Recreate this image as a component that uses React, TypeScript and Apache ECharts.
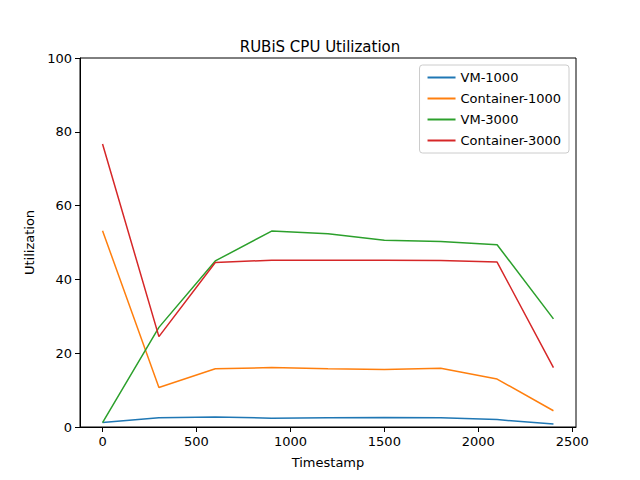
import React, { useEffect, useRef } from "react";
import * as echarts from "echarts";

const timestamps = [0, 300, 600, 900, 1200, 1500, 1800, 2100, 2400];
const vm1000 = [1.2, 2.5, 2.7, 2.4, 2.5, 2.6, 2.5, 2.0, 0.8];
const container1000 = [53.2, 10.7, 15.8, 16.1, 15.8, 15.6, 15.9, 13.0, 4.4];
const vm3000 = [1.2, 27.0, 45.0, 53.1, 52.4, 50.6, 50.3, 49.4, 29.3];
const container3000 = [76.7, 24.5, 44.6, 45.2, 45.2, 45.2, 45.1, 44.7, 16.1];
const xTicks = [0, 500, 1000, 1500, 2000, 2500];

const names = ["VM-1000", "Container-1000", "VM-3000", "Container-3000"];
const colors = ["#1f77b4", "#ff7f0e", "#2ca02c", "#d62728"];
const seriesData = [vm1000, container1000, vm3000, container3000];

export default function App() {
  const ref = useRef<HTMLDivElement>(null);
  useEffect(() => {
    const chart = echarts.init(ref.current!, null, { renderer: "svg" });
    const font = "DejaVu Sans";
    chart.setOption({
      animation: false,
      textStyle: { fontFamily: font },
      title: {
        text: "RUBiS CPU Utilization",
        left: "center",
        top: 34,
        textStyle: { fontFamily: font, fontSize: 15, fontWeight: "normal", color: "#000" },
      },
      legend: {
        data: names,
        orient: "vertical",
        right: 71,
        top: 65,
        itemWidth: 28,
        itemHeight: 2,
        itemGap: 8,
        padding: [6, 8, 6, 8],
        borderColor: "#ccc",
        borderWidth: 1,
        borderRadius: 3,
        icon: "rect",
        textStyle: { fontFamily: font, fontSize: 13, color: "#000" },
      },
      grid: {
        left: 80, right: 64, top: 58, bottom: 53,
        show: true, borderColor: "#000", borderWidth: 1,
      },
      xAxis: {
        type: "value",
        min: -120,
        max: 2520,
        name: "Timestamp",
        nameLocation: "middle",
        nameGap: 29,
        nameTextStyle: { fontFamily: font, fontSize: 13, color: "#000" },
        splitLine: { show: false },
        axisLine: { onZero: false, lineStyle: { color: "#000" } },
        axisTick: { customValues: xTicks, length: 5, lineStyle: { color: "#000" } },
        axisLabel: {
          customValues: xTicks, fontFamily: font, fontSize: 13, color: "#000", margin: 8,
          formatter: (v: number) => String(v),
        },
      },
      yAxis: {
        type: "value",
        min: 0,
        max: 100,
        interval: 20,
        name: "Utilization",
        nameLocation: "middle",
        nameGap: 42,
        nameTextStyle: { fontFamily: font, fontSize: 13, color: "#000" },
        splitLine: { show: false },
        axisLine: { show: true, onZero: false, lineStyle: { color: "#000" } },
        axisTick: { show: true, length: 5, lineStyle: { color: "#000" } },
        axisLabel: { fontFamily: font, fontSize: 13, color: "#000", margin: 8 },
      },
      series: names.map((n, i) => ({
        name: n,
        type: "line",
        data: timestamps.map((t, j) => [t, seriesData[i][j]]),
        showSymbol: false,
        symbol: "none",
        lineStyle: { width: 1.5, color: colors[i] },
        itemStyle: { color: colors[i] },
      })),
    });
    return () => chart.dispose();
  }, []);
  return <div ref={ref} style={{ width: 640, height: 480, margin: -8 }} />;
}
